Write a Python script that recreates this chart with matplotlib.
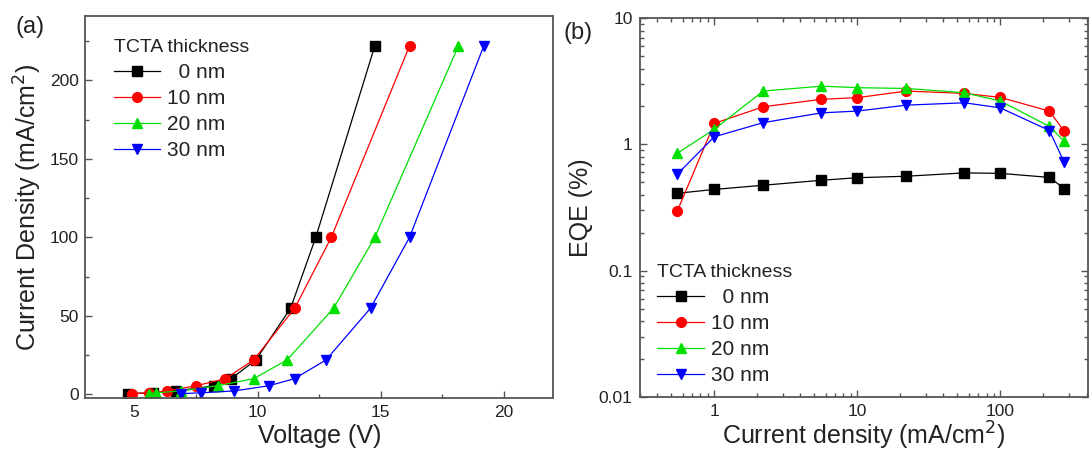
import numpy as np
import matplotlib
matplotlib.use("Agg")
import matplotlib.pyplot as plt
from matplotlib.ticker import MultipleLocator, LogLocator, NullFormatter, FixedLocator, FixedFormatter

plt.rcParams['font.family'] = ['Liberation Sans', 'DejaVu Sans']

# -----------------------------
# data
# -----------------------------
labels = ["  0 nm", "10 nm", "20 nm", "30 nm"]
colors = ["#000000", "#ff0000", "#00e000", "#0000ff"]
markers = ["s", "o", "^", "v"]

# (a) J-V
J_a = [0.5, 1, 2.2, 5.5, 10, 22, 55, 100, 222]
V_0nm = [4.72, 5.75, 6.68, 8.24, 8.92, 9.93, 11.34, 12.36, 14.76]
V_10nm = [4.88, 5.6, 6.32, 7.5, 8.69, 9.84, 11.51, 12.99, 16.17]
V_20nm = [5.57, 5.87, 6.9, 8.37, 9.84, 11.2, 13.09, 14.76, 18.16]
V_30nm = [6.89, 7.7, 9.05, 10.45, 11.5, 12.78, 14.59, 16.17, 19.19]

# (b) EQE vs J
J_b = [0.55, 1.0, 2.2, 5.6, 10, 22, 56, 100, 220, 280]
EQE_0nm = [0.41, 0.44, 0.475, 0.52, 0.545, 0.56, 0.595, 0.59, 0.548, 0.447]
EQE_10nm = [0.295, 1.47, 1.99, 2.28, 2.35, 2.65, 2.54, 2.36, 1.84, 1.27]
EQE_20nm = [0.85, 1.32, 2.65, 2.9, 2.82, 2.78, 2.57, 2.21, 1.39, 1.06]
EQE_30nm = [0.58, 1.15, 1.49, 1.78, 1.84, 2.05, 2.14, 1.95, 1.29, 0.72]

V_all = [V_0nm, V_10nm, V_20nm, V_30nm]
EQE_all = [EQE_0nm, EQE_10nm, EQE_20nm, EQE_30nm]

spine_col = "#555555"
txt_col = "#222222"

fig = plt.figure(figsize=(10.9, 4.55), dpi=100)
ax1 = fig.add_axes([0.0784, 0.1246, 0.4289, 0.8402])
ax2 = fig.add_axes([0.5867, 0.1281, 0.4115, 0.8316])

# -----------------------------
# (a)
# -----------------------------
for V, lab, c, m in zip(V_all, labels, colors, markers):
    ax1.plot(V, J_a, color=c, marker=m, ms=7, lw=0.9, label=lab,
             markeredgecolor=c)
ax1.set_xlim(3, 22)
ax1.set_ylim(-2.5, 241)
ax1.xaxis.set_major_locator(MultipleLocator(5))
ax1.xaxis.set_minor_locator(MultipleLocator(2.5))
ax1.yaxis.set_major_locator(MultipleLocator(50))
ax1.yaxis.set_minor_locator(MultipleLocator(25))
ax1.set_xlabel("Voltage (V)", fontsize=18, color=txt_col, labelpad=3)
ax1.set_ylabel("Current Density (mA/cm$^2$)", fontsize=18, color=txt_col, labelpad=4)
leg1 = ax1.legend(title="TCTA thickness", loc="upper left",
                  bbox_to_anchor=(0.062, 0.94), frameon=False, fontsize=15,
                  title_fontsize=14, handlelength=2.2, handletextpad=0.3,
                  labelspacing=0.34, borderaxespad=0, borderpad=0,
                  alignment="left")
ax1.text(-0.15, 1.0, "(a)", transform=ax1.transAxes, fontsize=17,
         color=txt_col, va="top", ha="left")

# -----------------------------
# (b)
# -----------------------------
for E, lab, c, m in zip(EQE_all, labels, colors, markers):
    ax2.plot(J_b, E, color=c, marker=m, ms=7, lw=0.9, label=lab,
             markeredgecolor=c)
ax2.set_xscale("log")
ax2.set_yscale("log")
ax2.set_xlim(0.3, 410)
ax2.set_ylim(0.01, 10)
ax2.xaxis.set_major_locator(FixedLocator([1, 10, 100]))
ax2.xaxis.set_major_formatter(FixedFormatter(["1", "10", "100"]))
ax2.xaxis.set_minor_locator(LogLocator(base=10, subs=np.arange(2, 10)))
ax2.xaxis.set_minor_formatter(NullFormatter())
ax2.yaxis.set_major_locator(FixedLocator([0.01, 0.1, 1, 10]))
ax2.yaxis.set_major_formatter(FixedFormatter(["0.01", "0.1", "1", "10"]))
ax2.yaxis.set_minor_locator(LogLocator(base=10, subs=np.arange(2, 10)))
ax2.yaxis.set_minor_formatter(NullFormatter())
ax2.set_xlabel("Current density (mA/cm$^2$)", fontsize=18, color=txt_col, labelpad=1)
ax2.set_ylabel("EQE (%)", fontsize=18, color=txt_col, labelpad=4)
leg2 = ax2.legend(title="TCTA thickness", loc="lower left",
                  bbox_to_anchor=(0.038, 0.03), frameon=False, fontsize=15,
                  title_fontsize=14, handlelength=2.3, handletextpad=0.3,
                  labelspacing=0.34, borderaxespad=0, borderpad=0,
                  alignment="left")
ax2.text(-0.17, 0.99, "(b)", transform=ax2.transAxes, fontsize=17,
         color=txt_col, va="top", ha="left")

for leg in (leg1, leg2):
    leg.get_title().set_color(txt_col)
    for t in leg.get_texts():
        t.set_color(txt_col)

for ax in (ax1, ax2):
    for sp in ax.spines.values():
        sp.set_color(spine_col)
        sp.set_linewidth(1.3)
    ax.tick_params(which="both", direction="in", colors=spine_col,
                   labelcolor=txt_col, labelsize=12.5, width=1.0)
    ax.tick_params(which="major", length=5)
    ax.tick_params(which="minor", length=3)
    ax.tick_params(axis="x", pad=5)
    ax.tick_params(axis="y", pad=5)

ax2.tick_params(which="both", top=True, right=True)

fig.savefig("out.png", dpi=100)
